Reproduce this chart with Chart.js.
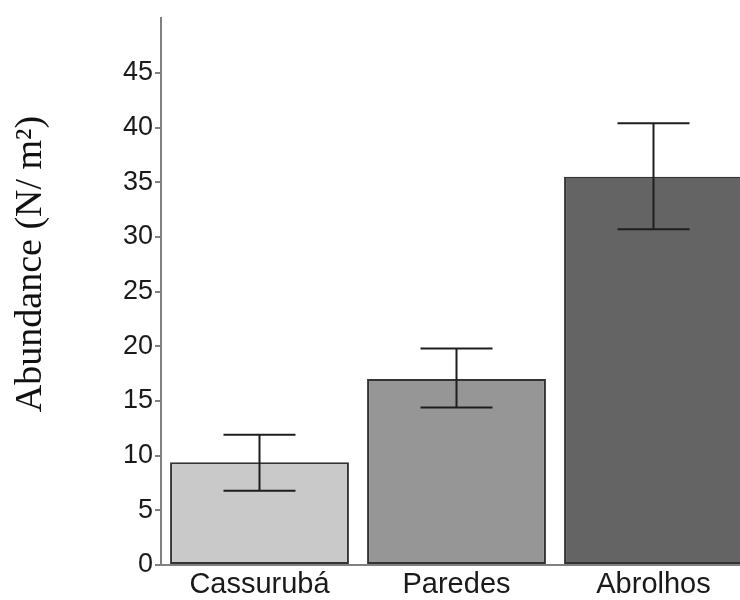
<!DOCTYPE html>
<html>
<head>
<meta charset="utf-8">
<script src="https://cdn.jsdelivr.net/npm/chart.js@4/dist/chart.umd.min.js"></script>
<style>
  html, body { margin: 0; padding: 0; background: #fff; overflow: hidden; }
  #wrap { position: absolute; left: 0; top: 0; width: 760px; height: 600px; }
</style>
</head>
<body>
<div id="wrap"><canvas id="chart" width="760" height="600"></canvas></div>
<script>
// data
const sites = ['Cassurubá', 'Paredes', 'Abrolhos'];
const abundance = [9.4, 17.0, 35.5];
const errLow = [6.8, 14.4, 30.7];
const errHigh = [11.9, 19.8, 40.4];
const barColors = ['#c9c9c9', '#969696', '#646464'];
const yTicks = [0, 5, 10, 15, 20, 25, 30, 35, 40, 45];
const yTitle = 'Abundance (N/ m²)';

// error bars drawn on top of the bars
const errorBars = {
  id: 'errorBars',
  afterDatasetsDraw(chart) {
    const ctx = chart.ctx;
    const y = chart.scales.y;
    const meta = chart.getDatasetMeta(0);
    ctx.save();
    ctx.strokeStyle = '#1e1e1e';
    ctx.lineWidth = 2;
    meta.data.forEach((bar, i) => {
      const top = y.getPixelForValue(errHigh[i]);
      const bot = y.getPixelForValue(errLow[i]);
      const cap = 36;
      ctx.beginPath();
      ctx.moveTo(bar.x, top); ctx.lineTo(bar.x, bot);
      ctx.moveTo(bar.x - cap, top); ctx.lineTo(bar.x + cap, top);
      ctx.moveTo(bar.x - cap, bot); ctx.lineTo(bar.x + cap, bot);
      ctx.stroke();
    });
    ctx.restore();
  }
};

// y title sits a bit above the middle of the axis in the original
const sideTitle = {
  id: 'sideTitle',
  afterDraw(chart) {
    const ctx = chart.ctx;
    ctx.save();
    ctx.translate(31, 264);
    ctx.rotate(-Math.PI / 2);
    ctx.font = '38px "Liberation Serif", "Times New Roman", serif';
    ctx.fillStyle = '#111';
    ctx.textAlign = 'center';
    ctx.textBaseline = 'middle';
    ctx.fillText(yTitle, 0, 0);
    ctx.restore();
  }
};

new Chart(document.getElementById('chart').getContext('2d'), {
  type: 'bar',
  data: {
    labels: sites,
    datasets: [{
      data: abundance,
      backgroundColor: barColors,
      borderColor: '#333',
      borderWidth: 2,
      borderSkipped: false,
      categoryPercentage: 1,
      barPercentage: 0.908
    }]
  },
  options: {
    responsive: false,
    animation: false,
    layout: { padding: { top: 16, right: 8, left: 0, bottom: 0 } },
    plugins: { legend: { display: false }, tooltip: { enabled: false } },
    scales: {
      x: {
        grid: { display: false, drawTicks: false, tickLength: 0 },
        border: { display: true, color: '#808080', width: 2 },
        ticks: {
          color: '#1a1a1a',
          padding: 3,
          font: { family: 'Liberation Sans, Arial, sans-serif', size: 29 }
        },
        afterFit: s => { s.height = 35; }
      },
      y: {
        min: 0,
        max: 50,
        afterBuildTicks: s => { s.ticks = yTicks.map(v => ({ value: v })); },
        grid: { drawOnChartArea: false, drawTicks: true, tickLength: 6, color: '#808080', lineWidth: 2 },
        border: { display: true, color: '#808080', width: 2 },
        ticks: {
          color: '#1a1a1a',
          padding: 2,
          font: { family: 'Liberation Sans, Arial, sans-serif', size: 27 }
        },
        afterFit: s => { s.width = 161; }
      }
    }
  },
  plugins: [errorBars, sideTitle]
});
</script>
</body>
</html>
